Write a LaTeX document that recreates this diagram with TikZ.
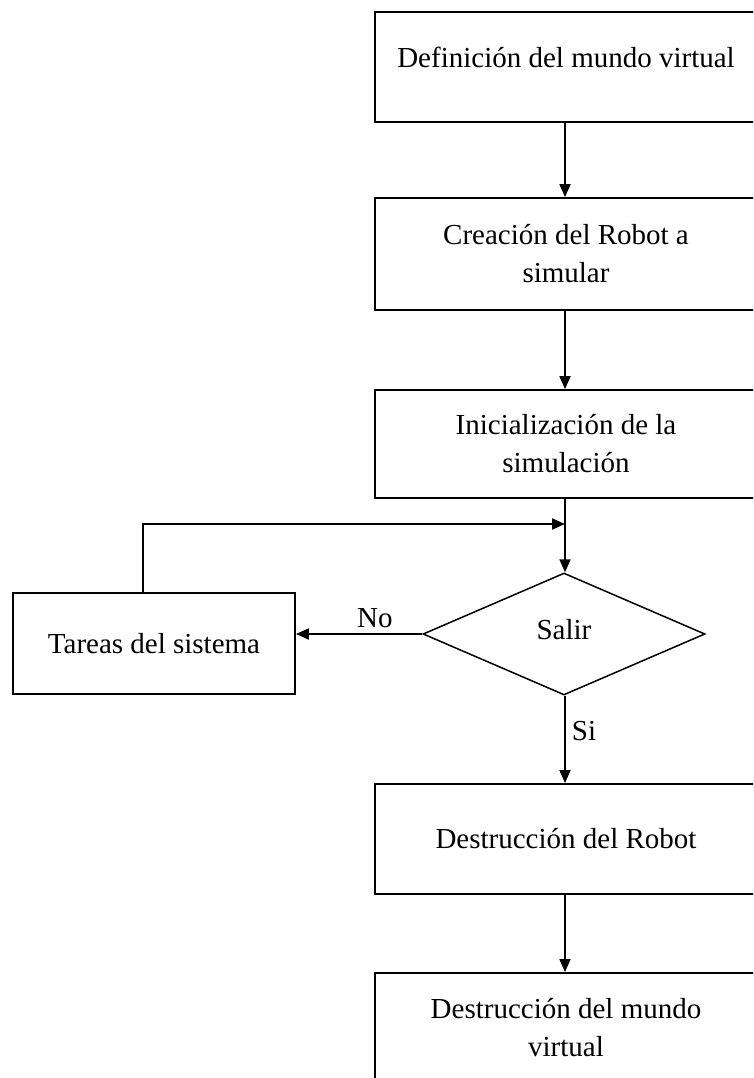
\documentclass[tikz,border=0pt]{standalone}
\usepackage{fontspec}
\setmainfont{Liberation Serif}
\usetikzlibrary{shapes.geometric,arrows.meta}
\tikzset{
  stepbox/.style={draw=black, line width=1.9pt, rectangle, minimum width=382pt, minimum height=110pt, inner sep=0pt, align=center, font=\fontsize{29}{38}\selectfont},
  taskbox/.style={draw=black, line width=1.9pt, rectangle, minimum width=282pt, minimum height=101pt, inner sep=0pt, align=center, font=\fontsize{29}{38}\selectfont},
  decision/.style={draw=black, line width=1.5pt, diamond, minimum width=282pt, minimum height=122pt, inner sep=0pt, font=\fontsize{29}{38}\selectfont},
  conn/.style={draw=black, line width=1.8pt, -{Triangle[length=13pt,width=11pt]}},
  lbl/.style={font=\fontsize{29}{38}\selectfont, inner sep=0pt}
}
\begin{document}
\begin{tikzpicture}[x=1pt,y=-1pt]
\useasboundingbox (0,0) rectangle (753,1078);
\clip (0,0) rectangle (753,1078);
\fill[white] (0,0) rectangle (753,1078);
\node[stepbox, text height=20pt, text depth=18pt] (b1) at (566,67) {Definición del mundo virtual};
\node[stepbox, minimum height=112pt] (b2) at (566,254) {Creación del Robot a\\simular};
\node[stepbox, minimum height=108pt] (b3) at (566,444) {Inicialización de la\\simulación};
\node[decision] (d) at (564,634) {};
\node[lbl] (salir) at (564,630) {Salir};
\node[taskbox] (t) at (154,643.5) {Tareas del sistema};
\node[stepbox] (b4) at (566,839) {Destrucción del Robot};
\node[stepbox] (b5) at (566,1028) {Destrucción del mundo\\virtual};
\coordinate (loop) at (565,524);
\coordinate (tl) at (143,593);
\draw[conn] (b1.south -| loop) -- (b2.north -| loop);
\draw[conn] (b2.south -| loop) -- (b3.north -| loop);
\draw[conn] (b3.south -| loop) -- (d.north -| loop);
\draw[conn] (d.west) -- node[lbl, pos=0.375, above=5pt] (no) {No} (d.west -| t.east);
\draw[conn] (tl) |- (loop);
\draw[conn] (d.south -| loop) -- node[lbl, pos=0.4, right=6pt] (si) {Si} (b4.north -| loop);
\draw[conn] (b4.south -| loop) -- (b5.north -| loop);
\end{tikzpicture}
\end{document}
